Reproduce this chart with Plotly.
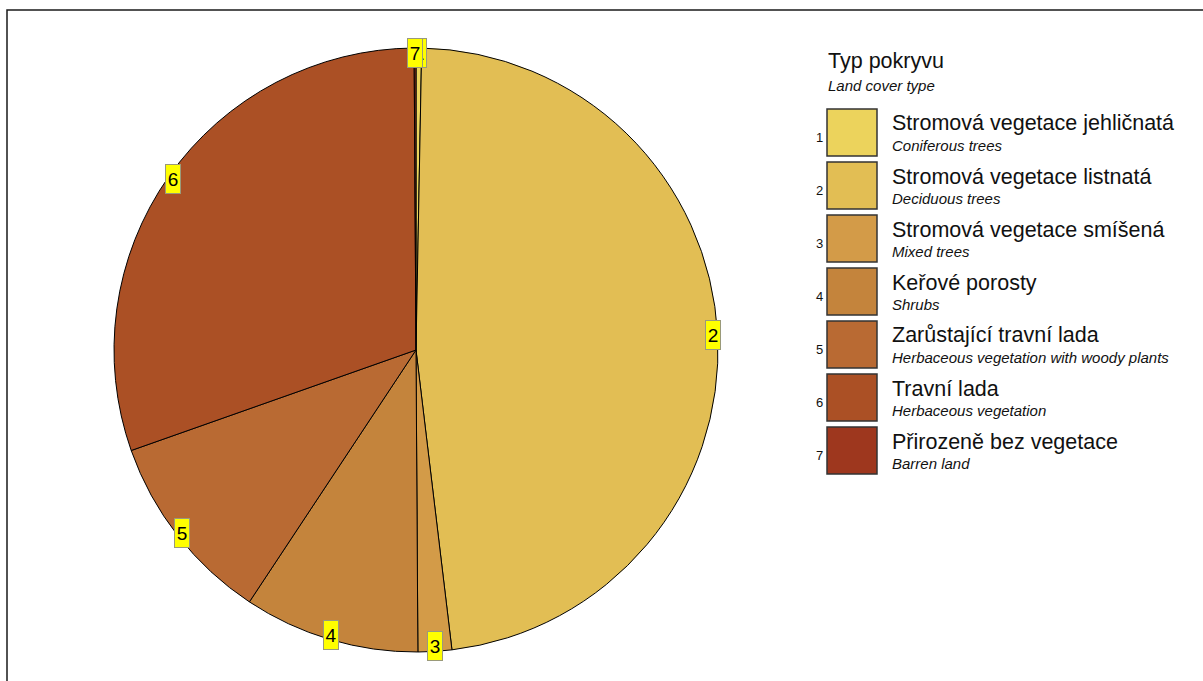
import math
import plotly.graph_objects as go

# Land cover categories (codes, Czech names, English names) and their shares in percent
codes = ["1", "2", "3", "4", "5", "6", "7"]
names_cz = [
    "Stromová vegetace jehličnatá",
    "Stromová vegetace listnatá",
    "Stromová vegetace smíšená",
    "Keřové porosty",
    "Zarůstající travní lada",
    "Travní lada",
    "Přirozeně bez vegetace",
]
names_en = [
    "Coniferous trees",
    "Deciduous trees",
    "Mixed trees",
    "Shrubs",
    "Herbaceous vegetation with woody plants",
    "Herbaceous vegetation",
    "Barren land",
]
shares = [0.3, 47.8, 1.8, 9.4, 10.3, 30.3, 0.1]
colors = ["#ECD35C", "#E2BE54", "#D39B48", "#C4843C", "#B96A33", "#AB5025", "#9E371E"]

W, H = 1203, 681
CX, CY, R = 416, 350, 302          # pie centre and radius in pixels
LABEL_R = 297                      # radius of the numbered tags


def px(x):
    return x / W


def py(y):
    return 1 - y / H


fig = go.Figure()
fig.add_trace(go.Pie(
    labels=names_cz,
    values=shares,
    sort=False,
    direction="clockwise",
    rotation=0,
    textinfo="none",
    hoverinfo="label+percent",
    showlegend=False,
    marker=dict(colors=colors, line=dict(color="#000000", width=1)),
    domain=dict(x=[px(CX - R), px(CX + R)], y=[py(CY + R), py(CY - R)]),
))

annotations = []
shapes = []

# numbered yellow tags on the rim, at each slice's mid angle
total = sum(shares)
cum = 0.0
for code, v in zip(codes, shares):
    mid = (cum + v / 2) / total * 2 * math.pi
    cum += v
    lx = CX + LABEL_R * math.sin(mid)
    ly = CY - LABEL_R * math.cos(mid)
    annotations.append(dict(
        x=px(lx), y=py(ly), xref="paper", yref="paper",
        text=code, showarrow=False, xanchor="center", yanchor="middle",
        width=12, height=26, align="center", valign="middle",
        font=dict(family="Liberation Sans, Arial", size=19, color="#000000"),
        bgcolor="#FFFF00", bordercolor="#9A9A7A", borderwidth=1, borderpad=1,
    ))

# legend heading
annotations.append(dict(
    x=px(826), y=py(60.5), xref="paper", yref="paper", text="Typ pokryvu",
    showarrow=False, xanchor="left", yanchor="middle",
    font=dict(family="Liberation Sans, Arial", size=21.5, color="#111111"),
))
annotations.append(dict(
    x=px(826), y=py(85.8), xref="paper", yref="paper", text="<i>Land cover type</i>",
    showarrow=False, xanchor="left", yanchor="middle",
    font=dict(family="Liberation Sans, Arial", size=15, color="#111111"),
))

# legend rows: swatch, code, Czech name, English name
STEP = 53.0
for i, (code, cz, en, col) in enumerate(zip(codes, names_cz, names_en, colors)):
    top = 109 + STEP * i
    shapes.append(dict(
        type="rect", xref="paper", yref="paper",
        x0=px(827), x1=px(877), y0=py(top + 47), y1=py(top),
        fillcolor=col, line=dict(color="#333333", width=1.5),
    ))
    annotations.append(dict(
        x=px(819), y=py(137.5 + STEP * i), xref="paper", yref="paper", text=code,
        showarrow=False, xanchor="center", yanchor="middle",
        font=dict(family="Liberation Sans, Arial", size=13, color="#111111"),
    ))
    annotations.append(dict(
        x=px(890), y=py(123.5 + STEP * i), xref="paper", yref="paper", text=cz,
        showarrow=False, xanchor="left", yanchor="middle",
        font=dict(family="Liberation Sans, Arial", size=21.5, color="#111111"),
    ))
    annotations.append(dict(
        x=px(890), y=py(145.8 + STEP * i), xref="paper", yref="paper", text=f"<i>{en}</i>",
        showarrow=False, xanchor="left", yanchor="middle",
        font=dict(family="Liberation Sans, Arial", size=15, color="#111111"),
    ))

# outer frame running off the right and bottom edges
shapes.append(dict(
    type="rect", xref="paper", yref="paper",
    x0=px(7), x1=1.02, y0=-0.02, y1=py(10),
    line=dict(color="#1A1A1A", width=1.5), fillcolor="rgba(0,0,0,0)",
))

fig.update_layout(
    width=W, height=H, autosize=False,
    margin=dict(l=0, r=0, t=0, b=0),
    paper_bgcolor="#FFFFFF", plot_bgcolor="#FFFFFF",
    annotations=annotations, shapes=shapes,
)

fig.write_html("out.html")
